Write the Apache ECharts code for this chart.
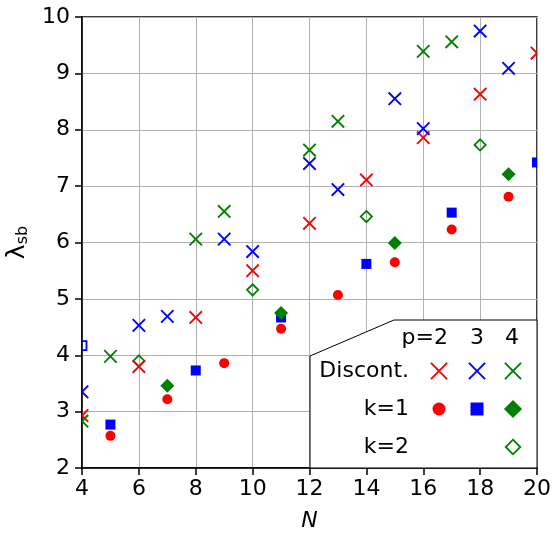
<!DOCTYPE html>
<html>
<head>
<meta charset="utf-8">
<script src="https://cdn.jsdelivr.net/npm/echarts@6/dist/echarts.min.js"></script>
<style>
  html, body { margin: 0; padding: 0; background: #fff; }
  #chart { width: 552px; height: 533px; }
</style>
</head>
<body>
<div id="chart"></div>
<script>
// values
const xTicks = [4, 6, 8, 10, 12, 14, 16, 18, 20];
const yTicks = [2, 3, 4, 5, 6, 7, 8, 9, 10];

const discP2N = [4, 6, 8, 10, 12, 14, 16, 18, 20];
const discP2Y = [2.93, 3.80, 4.67, 5.50, 6.34, 7.11, 7.86, 8.63, 9.36];
const discP3N = [4, 6, 7, 9, 10, 12, 13, 15, 16, 18, 19];
const discP3Y = [3.35, 4.53, 4.69, 6.06, 5.84, 7.40, 6.94, 8.55, 8.02, 9.75, 9.09];
const discP4N = [4, 5, 8, 9, 12, 13, 16, 17];
const discP4Y = [2.83, 3.98, 6.06, 6.55, 7.64, 8.15, 9.39, 9.56];

const k1P2N = [5, 7, 9, 11, 13, 15, 17, 19];
const k1P2Y = [2.57, 3.22, 3.86, 4.47, 5.07, 5.65, 6.23, 6.81];
const k1P3N = [5, 8, 11, 14, 17, 20];
const k1P3Y = [2.77, 3.73, 4.67, 5.62, 6.53, 7.42];
const k1P4N = [7, 11, 15, 19];
const k1P4Y = [3.46, 4.75, 5.99, 7.21];

const k2P3N = [4];
const k2P3Y = [4.17];
const k2P4N = [6, 10, 14, 18];
const k2P4Y = [3.90, 5.16, 6.46, 7.73];

const RED = '#ff0000', BLUE = '#0000ff', GREEN = '#008000';
const FONT = 'DejaVu Sans';

function marker(kind, color, x, y, s) {
  if (kind === 'cross') {
    const h = 6.2 * s;
    return {
      type: 'group',
      children: [
        { type: 'line', shape: { x1: x - h, y1: y - h, x2: x + h, y2: y + h }, style: { stroke: color, lineWidth: 1.9 } },
        { type: 'line', shape: { x1: x - h, y1: y + h, x2: x + h, y2: y - h }, style: { stroke: color, lineWidth: 1.9 } }
      ]
    };
  }
  if (kind === 'circle') {
    return { type: 'circle', shape: { cx: x, cy: y, r: 5 * s }, style: { fill: color } };
  }
  if (kind === 'square') {
    return { type: 'rect', shape: { x: x - 5 * s, y: y - 5 * s, width: 10 * s, height: 10 * s }, style: { fill: color } };
  }
  if (kind === 'osquare') {
    return { type: 'rect', shape: { x: x - 4.5 * s, y: y - 4.5 * s, width: 9 * s, height: 9 * s }, style: { fill: 'none', stroke: color, lineWidth: 1.8 } };
  }
  if (kind === 'diamond') {
    const h = 7 * s;
    return { type: 'polygon', shape: { points: [[x, y - h], [x + h, y], [x, y + h], [x - h, y]] }, style: { fill: color } };
  }
  // open diamond
  const h = 5.6 * s;
  return { type: 'polygon', shape: { points: [[x, y - h], [x + h, y], [x, y + h], [x - h, y]] }, style: { fill: 'none', stroke: color, lineWidth: 1.8 } };
}

function pts(xs, ys) {
  return xs.map((v, i) => [v, ys[i]]);
}

function markSeries(name, kind, color, xs, ys) {
  return {
    name: name,
    type: 'custom',
    clip: true,
    data: pts(xs, ys),
    encode: { x: 0, y: 1 },
    renderItem: function (params, api) {
      const p = api.coord([api.value(0), api.value(1)]);
      return marker(kind, color, p[0], p[1], 1);
    }
  };
}

function raise(g) {
  g.z = 100;
  if (g.children) g.children.forEach(raise);
  return g;
}

// legend box
const legendItems = [
  {
    type: 'polygon',
    shape: { points: [[310, 468], [310, 356], [394, 320], [537, 320], [537, 468]] },
    style: { fill: '#fff', stroke: '#000', lineWidth: 1 }
  },
  { type: 'text', style: { text: 'p=2', x: 448, y: 338, align: 'right', verticalAlign: 'middle', fontSize: 22, fontFamily: FONT, fill: '#000' } },
  { type: 'text', style: { text: '3', x: 477, y: 338, align: 'center', verticalAlign: 'middle', fontSize: 22, fontFamily: FONT, fill: '#000' } },
  { type: 'text', style: { text: '4', x: 512, y: 338, align: 'center', verticalAlign: 'middle', fontSize: 22, fontFamily: FONT, fill: '#000' } },
  { type: 'text', style: { text: 'Discont.', x: 409, y: 371, align: 'right', verticalAlign: 'middle', fontSize: 22, fontFamily: FONT, fill: '#000' } },
  { type: 'text', style: { text: 'k=1', x: 409, y: 409, align: 'right', verticalAlign: 'middle', fontSize: 22, fontFamily: FONT, fill: '#000' } },
  { type: 'text', style: { text: 'k=2', x: 409, y: 447, align: 'right', verticalAlign: 'middle', fontSize: 22, fontFamily: FONT, fill: '#000' } },
  marker('cross', RED, 439, 371, 1.3),
  marker('cross', BLUE, 477, 371, 1.3),
  marker('cross', GREEN, 513, 371, 1.3),
  marker('circle', RED, 439, 409, 1.3),
  marker('square', BLUE, 477, 409, 1.3),
  marker('diamond', GREEN, 513, 409, 1.3),
  marker('odiamond', GREEN, 513, 447, 1.3)
];
legendItems.forEach(raise);

const chart = echarts.init(document.getElementById('chart'));
chart.setOption({
  animation: false,
  backgroundColor: '#fff',
  textStyle: { fontFamily: FONT },
  grid: {
    left: 82, right: 15, top: 17, bottom: 65,
    outerBoundsMode: 'none',
    containLabel: false,
    show: true, borderColor: '#000', borderWidth: 1.5
  },
  xAxis: {
    type: 'value',
    min: xTicks[0], max: xTicks[xTicks.length - 1], interval: 2,
    name: 'N',
    nameLocation: 'middle',
    nameGap: 42,
    nameTextStyle: { fontSize: 22, fontStyle: 'italic', color: '#000', fontFamily: FONT },
    axisLine: { lineStyle: { color: '#000', width: 1.5 } },
    axisTick: { show: true, length: 7, lineStyle: { color: '#000', width: 1.5 } },
    axisLabel: { fontSize: 22, color: '#000', margin: 10, fontFamily: FONT },
    splitLine: { show: true, lineStyle: { color: '#b0b0b0', width: 1 } }
  },
  yAxis: {
    type: 'value',
    min: yTicks[0], max: yTicks[yTicks.length - 1], interval: 1,
    name: '{a|λ}{b|sb}',
    nameLocation: 'middle',
    nameGap: 42,
    nameRotate: 90,
    nameTextStyle: {
      color: '#000',
      rich: {
        a: { fontSize: 25, fontFamily: FONT, color: '#000' },
        b: { fontSize: 16, fontFamily: FONT, color: '#000', verticalAlign: 'bottom', padding: [12, 0, 0, 0] }
      }
    },
    axisLine: { lineStyle: { color: '#000', width: 1.5 } },
    axisTick: { show: true, length: 7, lineStyle: { color: '#000', width: 1.5 } },
    axisLabel: { fontSize: 22, color: '#000', margin: 12, fontFamily: FONT },
    splitLine: { show: true, lineStyle: { color: '#b0b0b0', width: 1 } }
  },
  graphic: legendItems,
  series: [
    markSeries('k=2 p=4', 'odiamond', GREEN, k2P4N, k2P4Y),
    markSeries('k=2 p=3', 'osquare', BLUE, k2P3N, k2P3Y),
    markSeries('k=1 p=2', 'circle', RED, k1P2N, k1P2Y),
    markSeries('k=1 p=3', 'square', BLUE, k1P3N, k1P3Y),
    markSeries('k=1 p=4', 'diamond', GREEN, k1P4N, k1P4Y),
    markSeries('Discont. p=2', 'cross', RED, discP2N, discP2Y),
    markSeries('Discont. p=3', 'cross', BLUE, discP3N, discP3Y),
    markSeries('Discont. p=4', 'cross', GREEN, discP4N, discP4Y)
  ]
});
</script>
</body>
</html>
